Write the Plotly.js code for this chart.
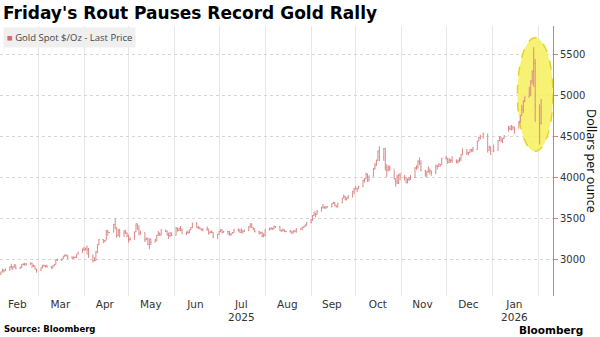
<!DOCTYPE html>
<html>
<head>
<meta charset="utf-8">
<script src="https://cdn.plot.ly/plotly-3.0.1.min.js"></script>
<style>
  html, body { margin: 0; padding: 0; background: #ffffff; }
  #chart { width: 600px; height: 337px; }
</style>
</head>
<body>
<div id="chart"></div>
<script>
// ---------------- DATA ----------------
const titleText = "Friday's Rout Pauses Record Gold Rally";
const seriesName = "Gold Spot $/Oz - Last Price";
const yTitle = "Dollars per ounce";
const sourceText = "Source: Bloomberg";
const brandText = "Bloomberg";

const firstDay = "2025-02-03";
const lastDay = "2026-02-03";
const holidays = ["2025-12-25", "2026-01-01"];
const firstOpen = 2800;

// daily closes (one per trading day)
const closes = [
  // Feb 2025
  2815,2842,2866,2856,2861,2908,2898,2904,2928,2883,2898,2935,2933,2939,2936,2951,2915,2916,2876,2858,
  // Mar
  2893,2918,2920,2910,2910,2889,2916,2934,2989,2984,3000,3035,3048,3044,3022,3011,3020,3019,3057,3084,3123,
  // Apr
  3113,3134,3114,3037,2982,2983,3083,3175,3237,3211,3230,3343,3327,3327,3424,3381,3288,3349,3319,3343,3316,3288,
  // May
  3239,3240,3334,3431,3366,3306,3325,3235,3249,3177,3240,3204,3229,3289,3314,3295,3357,3342,3300,3288,3318,3289,
  // Jun
  3381,3353,3373,3353,3310,3325,3323,3355,3386,3433,3385,3388,3370,3368,3368,3368,3323,3332,3327,3274,3303,
  // Jul
  3338,3357,3326,3337,3336,3302,3313,3324,3355,3343,3324,3347,3339,3350,3397,3431,3387,3368,3337,3314,3326,3275,3289,
  // Aug
  3363,3373,3380,3368,3397,3398,3352,3348,3356,3335,3336,3332,3315,3348,3339,3372,3365,3393,3397,3416,3448,
  // Sep
  3477,3533,3578,3545,3587,3636,3626,3640,3634,3643,3680,3690,3660,3644,3685,3746,3764,3737,3749,3760,3833,3859,
  // Oct
  3866,3857,3887,3960,3985,4040,3975,4018,4110,4142,4209,4326,4252,4356,4125,4095,4126,4112,3982,3952,3930,4025,4002,
  // Nov
  4001,3932,3980,3977,4000,4116,4128,4195,4172,4084,4045,4066,4078,4077,4065,4138,4132,4165,4157,4239,
  // Dec
  4231,4186,4206,4208,4197,4189,4208,4229,4280,4300,4305,4303,4340,4332,4340,4444,4490,4480,4530,4330,4370,4320,
  // Jan 2026
  4330,4450,4495,4455,4478,4510,4600,4590,4625,4615,4595,4670,4760,4830,4935,4985,5010,5180,5300,5400,4890,
  // Feb 2026
  4660,4950
];

const highs = [
  2830,2845,2882,2870,2886,2911,2942,2910,2936,2932,2906,2938,2947,2955,2950,2956,2953,2931,2918,2880,
  2896,2928,2930,2927,2930,2913,2922,2940,2990,3005,3005,3038,3055,3057,3044,3035,3030,3032,3060,3087,3128,
  3149,3136,3168,3136,3055,3023,3099,3177,3245,3245,3234,3357,3358,3331,3430,3500,3386,3370,3371,3353,3354,3328,
  3300,3270,3335,3435,3435,3414,3348,3325,3263,3263,3252,3253,3249,3296,3345,3326,3366,3358,3350,3325,3330,3325,
  3392,3383,3385,3403,3375,3338,3349,3360,3391,3446,3452,3405,3391,3370,3372,3398,3368,3343,3350,3331,3307,
  3345,3365,3365,3345,3343,3345,3318,3330,3368,3375,3366,3377,3349,3360,3402,3433,3439,3393,3373,3345,3334,3334,3315,
  3364,3385,3390,3383,3409,3400,3404,3358,3375,3365,3346,3358,3345,3351,3351,3379,3376,3393,3394,3423,3453,
  3490,3540,3578,3565,3600,3640,3674,3645,3644,3648,3683,3703,3697,3656,3686,3750,3791,3769,3754,3783,3835,3871,
  3895,3875,3897,3975,3991,4059,4045,4022,4116,4179,4218,4327,4381,4359,4359,4161,4146,4146,4097,3990,4030,4045,4056,
  4030,4005,3990,4005,4028,4125,4148,4211,4245,4211,4092,4082,4133,4110,4085,4156,4156,4170,4165,4240,
  4264,4240,4240,4228,4259,4221,4218,4246,4285,4353,4350,4315,4345,4350,4374,4448,4498,4525,4550,4534,4390,4380,
  4402,4460,4500,4500,4480,4515,4630,4634,4643,4624,4620,4690,4765,4888,4945,4990,5110,5190,5310,5595,5450,
  4890,4960
];

const lows = [
  2771,2805,2836,2835,2852,2860,2880,2863,2893,2876,2880,2890,2922,2919,2920,2930,2890,2905,2871,2833,
  2857,2885,2907,2895,2895,2880,2886,2911,2930,2976,2978,3000,3028,3030,2999,3000,3005,3011,3015,3057,3076,
  3100,3105,3054,3015,2957,2970,2980,3073,3171,3195,3208,3229,3284,3320,3330,3366,3260,3280,3265,3270,3307,3268,
  3201,3224,3239,3330,3360,3290,3300,3208,3233,3172,3120,3171,3205,3218,3285,3280,3290,3330,3285,3245,3270,3280,
  3290,3336,3343,3340,3308,3293,3310,3316,3354,3378,3380,3366,3365,3346,3340,3347,3296,3312,3318,3255,3247,
  3296,3328,3311,3323,3296,3287,3283,3311,3321,3341,3320,3319,3310,3332,3344,3383,3381,3351,3325,3301,3308,3268,3268,
  3280,3348,3355,3360,3365,3381,3341,3331,3340,3331,3330,3323,3311,3315,3328,3321,3361,3351,3379,3390,3406,
  3436,3468,3528,3511,3542,3586,3620,3618,3613,3632,3632,3675,3645,3630,3631,3685,3743,3718,3717,3740,3758,3793,
  3851,3820,3860,3884,3938,3983,3945,3946,4010,4094,4142,4204,4200,4203,4082,4004,4072,4079,3974,3886,3920,3920,3965,
  3962,3929,3930,3956,3970,3995,4092,4105,4150,4074,4008,4000,4061,4038,4020,4041,4097,4127,4129,4150,
  4219,4168,4176,4178,4180,4172,4170,4186,4200,4275,4275,4270,4300,4310,4309,4337,4440,4465,4480,4305,4330,4274,
  4310,4330,4445,4430,4420,4470,4560,4580,4575,4580,4536,4600,4670,4760,4790,4920,4980,5000,5140,5110,4680,
  4402,4650
];

// axis labels
const monthTickDates = ["2025-02-15","2025-03-16","2025-04-15","2025-05-16","2025-06-15","2025-07-16",
                        "2025-08-16","2025-09-15","2025-10-16","2025-11-15","2025-12-16","2026-01-16"];
const monthTickText = ["Feb","Mar","Apr","May","Jun","Jul<br>2025","Aug","Sep","Oct","Nov","Dec","Jan<br>2026"];
const yTickVals = [3000, 3500, 4000, 4500, 5000, 5500];

// highlighted period (yellow ellipse)
const highlightX = ["2026-01-18", "2026-02-11"];
const highlightY = [4320, 5710];

// ---------------- BUILD ----------------
function tradingDays(start, end, skip) {
  const out = [];
  const d = new Date(start + "T00:00:00Z");
  const e = new Date(end + "T00:00:00Z");
  while (d <= e) {
    const wd = d.getUTCDay();
    const s = d.toISOString().slice(0, 10);
    if (wd !== 0 && wd !== 6 && skip.indexOf(s) < 0) out.push(s);
    d.setUTCDate(d.getUTCDate() + 1);
  }
  return out;
}
const dates = tradingDays(firstDay, lastDay, holidays);
const opens = closes.map((c, i) => i === 0 ? firstOpen : closes[i - 1]);
if (dates.length !== closes.length) console.log("length mismatch", dates.length, closes.length);

const barColor = "#dc8888";
const trace = {
  type: "ohlc",
  x: dates,
  open: opens, high: highs, low: lows, close: closes,
  increasing: { line: { color: barColor, width: 1 } },
  decreasing: { line: { color: barColor, width: 1 } },
  tickwidth: 0.45,
  hoverinfo: "skip",
  showlegend: false,
  name: seriesName
};

const fontMain = "DejaVu Sans, Verdana, sans-serif";
const layout = {
  width: 600, height: 337,
  margin: { l: 0, r: 47, t: 26, b: 41 },
  paper_bgcolor: "#ffffff",
  plot_bgcolor: "#ffffff",
  showlegend: false,
  xaxis: {
    type: "date",
    range: ["2025-02-03 09:00", "2026-02-11 00:00"],
    rangeslider: { visible: false },
    tickmode: "array",
    tickvals: monthTickDates,
    ticktext: monthTickText,
    ticks: "",
    showgrid: false,
    showline: false,
    zeroline: false,
    tickfont: { family: fontMain, size: 10.5, color: "#333333" },
    minor: { dtick: "M1", tick0: "2025-01-01", showgrid: true, gridcolor: "#e6e6e6", gridwidth: 1, ticks: "" },
    fixedrange: true
  },
  yaxis: {
    side: "right",
    range: [2547, 5855],
    tickmode: "array",
    tickvals: yTickVals,
    ticks: "outside",
    ticklen: 4,
    tickcolor: "#e07a7a",
    showline: true,
    linecolor: "#e07a7a",
    linewidth: 1,
    showgrid: true,
    gridcolor: "#d6d6d6",
    griddash: "dot",
    zeroline: false,
    tickfont: { family: fontMain, size: 10, color: "#333333" },
    fixedrange: true
  },
  shapes: [{
    type: "circle",
    xref: "x", yref: "y",
    x0: highlightX[0], x1: highlightX[1],
    y0: highlightY[0], y1: highlightY[1],
    fillcolor: "rgba(246,240,90,0.85)",
    line: { color: "#e3d22a", width: 1.5, dash: "dash" },
    layer: "between"
  }],
  annotations: [
    {
      text: "<b>" + titleText + "</b>",
      xref: "paper", yref: "paper", x: 0, y: 1,
      xanchor: "left", yanchor: "bottom",
      xshift: 1, yshift: 1,
      showarrow: false,
      font: { family: fontMain, size: 17, color: "#000000" }
    },
    {
      text: "<span style='color:#e06666'>■</span> " + seriesName,
      xref: "paper", yref: "paper", x: 0, y: 1,
      xanchor: "left", yanchor: "top",
      xshift: 3, yshift: -1,
      showarrow: false,
      bgcolor: "#efefef",
      borderpad: 3,
      font: { family: "Open Sans, sans-serif", size: 9.5, color: "#444444" }
    },
    {
      text: yTitle,
      xref: "paper", yref: "paper", x: 1, y: 0.5,
      xanchor: "center", yanchor: "middle",
      xshift: 39,
      textangle: 90,
      showarrow: false,
      font: { family: "Noto Sans, sans-serif", size: 12.5, color: "#111111" }
    },
    {
      text: "<b>" + sourceText + "</b>",
      xref: "paper", yref: "paper", x: 0, y: 0,
      xanchor: "left", yanchor: "middle",
      xshift: 2, yshift: -33,
      showarrow: false,
      font: { family: fontMain, size: 8.5, color: "#000000" }
    },
    {
      text: "<b>" + brandText + "</b>",
      xref: "paper", yref: "paper", x: 1, y: 0,
      xanchor: "right", yanchor: "middle",
      xshift: 32, yshift: -34,
      showarrow: false,
      font: { family: fontMain, size: 10.5, color: "#000000" }
    }
  ]
};

Plotly.newPlot("chart", [trace], layout, { staticPlot: true, displayModeBar: false });
</script>
</body>
</html>
